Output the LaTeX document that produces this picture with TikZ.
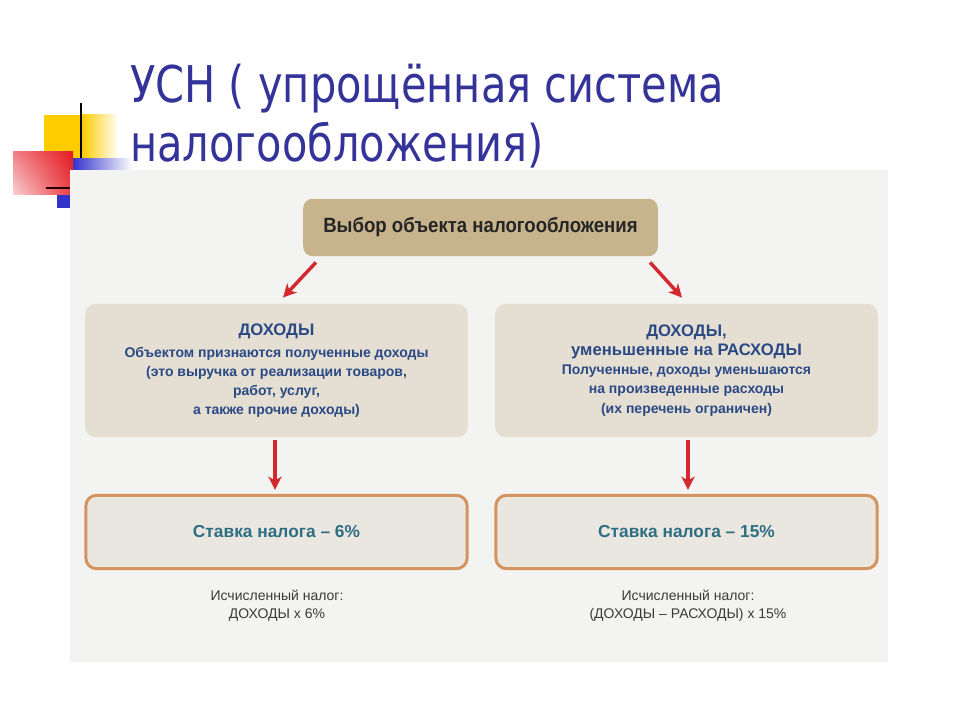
\documentclass[tikz,border=0pt]{standalone}
\usepackage{fontspec}
\setmainfont{Liberation Sans}
\newfontfamily\titlefont[FakeStretch=0.82]{DejaVu Sans}
\newfontfamily\headfont[FakeStretch=0.9]{Liberation Sans}
\usetikzlibrary{arrows.meta,shadings}
\definecolor{titleblue}{HTML}{333399}
\definecolor{panelgray}{HTML}{F3F3F1}
\definecolor{toptan}{HTML}{C7B38C}
\definecolor{midbeige}{HTML}{E4DED3}
\definecolor{ratefill}{HTML}{EAE7E1}
\definecolor{rateborder}{HTML}{D4935F}
\definecolor{midblue}{HTML}{2B4A85}
\definecolor{rateteal}{HTML}{2E6E82}
\definecolor{calcgray}{HTML}{3A3A3A}
\definecolor{arrowred}{HTML}{D4282F}
\definecolor{decoyellow}{HTML}{FFCC00}
\definecolor{decored}{HTML}{E41B23}
\definecolor{decoblue}{HTML}{3333CC}
\newcommand{\bigline}{\fontsize{12.5}{14.3}\selectfont}
\begin{document}
\begin{tikzpicture}
  [x=0.75pt,y=-0.75pt,
   titletext/.style={anchor=base west,inner sep=0pt,text=titleblue,
     font=\titlefont\fontsize{38}{44}\selectfont},
   topbox/.style={rounded corners=7pt,fill=toptan,minimum width=266pt,
     minimum height=43pt,text=black!85,font=\headfont\bfseries\fontsize{15.5}{18}\selectfont},
   midbox/.style={rounded corners=8pt,fill=midbeige,minimum width=287pt,
     minimum height=100pt,align=center,text=midblue,
     font=\bfseries\fontsize{10.5}{14.3}\selectfont},
   ratebox/.style={rounded corners=8pt,draw=rateborder,line width=2.2pt,fill=ratefill,
     minimum width=286pt,minimum height=55pt,text=rateteal,
     font=\bfseries\fontsize{13}{16}\selectfont},
   calctext/.style={align=center,text=calcgray,font=\fontsize{10.5}{13.5}\selectfont},
   arr/.style={draw=arrowred,line width=2.6pt,-{Stealth[length=10pt,width=10pt,inset=3pt]}}]
  \useasboundingbox (0,0) rectangle (960,720);
  % corner decoration
  \fill[decoyellow] (44,115) rectangle (82,160);
  \shade[left color=decoyellow,right color=decoyellow!5] (82,115) rectangle (117,160);
  \draw[black,line width=1.6pt] (81,103) -- (81,160);
  \shade[left color=decoblue,right color=white] (73,159) rectangle (132,170);
  \shade[upper right=decored,lower right=decored!85!white,
         upper left=decored!55!white,lower left=decored!20!white] (13,152) rectangle (73,195);
  \draw[black!85!red,line width=1.6pt] (46,188) -- (71,188);
  \fill[decoblue] (57,195) rectangle (70,208);
  % title
  \node[titletext] (title1) at (130,103) {УСН ( упрощённая система};
  \node[titletext] (title2) at (130,162) {налогообложения)};
  % scanned panel
  \fill[panelgray] (70,170) rectangle (888,662);
  % boxes
  \node[topbox] (choice) at (480.5,227.5) {Выбор объекта налогообложения};
  \node[midbox] (incomeL) at (276.5,370.5)
    {{\bigline ДОХОДЫ}\\[2pt] Объектом признаются полученные доходы\\
     (это выручка от реализации товаров,\\ работ, услуг,\\ а также прочие доходы)};
  \node[midbox] (incomeR) at (686.5,370.5)
    {{\bigline ДОХОДЫ,}\\ {\bigline уменьшенные на РАСХОДЫ}\\
     Полученные, доходы уменьшаются\\ на произведенные расходы\\ (их перечень ограничен)};
  \node[ratebox] (rateL) at (276.5,532) {Ставка налога – 6\%};
  \node[ratebox] (rateR) at (686.5,532) {Ставка налога – 15\%};
  \node[calctext] (calcL) at (277,606) {Исчисленный налог:\\ ДОХОДЫ х 6\%};
  \node[calctext] (calcR) at (688,606) {Исчисленный налог:\\ (ДОХОДЫ – РАСХОДЫ) х 15\%};
  % arrows
  \draw[arr] ([shift={(13,6)}]choice.south west) -- ([shift={(6.5,-6)}]incomeL.north);
  \draw[arr] ([shift={(-8,6)}]choice.south east) -- ([shift={(-4.5,-6)}]incomeR.north);
  \draw[arr] ([shift={(-1.5,3)}]incomeL.south) -- ([shift={(-1.5,-4)}]rateL.north);
  \draw[arr] ([shift={(1.5,3)}]incomeR.south) -- ([shift={(1.5,-4)}]rateR.north);
\end{tikzpicture}
\end{document}
